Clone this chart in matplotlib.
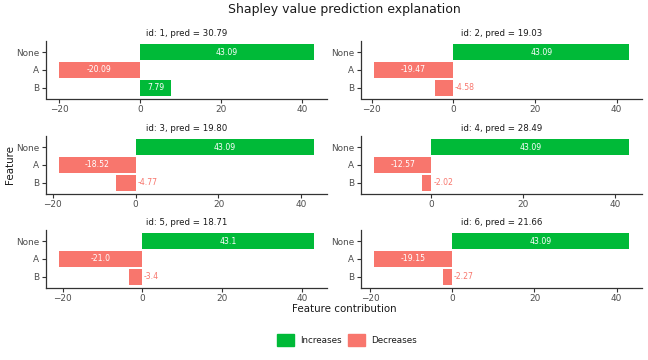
"""Shapley value prediction explanation, six small panels."""
import matplotlib
matplotlib.use("Agg")
import matplotlib.pyplot as plt
from matplotlib.patches import Patch
from matplotlib.ticker import MultipleLocator

features = ["None", "A", "B"]
ids = [1, 2, 3, 4, 5, 6]
preds = ["30.79", "19.03", "19.80", "28.49", "18.71", "21.66"]
# contribution labels per panel, in the order of features
contrib_labels = [
    ["43.09", "-20.09", "7.79"],
    ["43.09", "-19.47", "-4.58"],
    ["43.09", "-18.52", "-4.77"],
    ["43.09", "-12.57", "-2.02"],
    ["43.1", "-21.0", "-3.4"],
    ["43.09", "-19.15", "-2.27"],
]

GREEN = "#00BA38"
RED = "#F8766D"
DARK = "#333333"
GREY = "#4D4D4D"

W, H = 648, 360
fig = plt.figure(figsize=(W / 100, H / 100), dpi=100)

col_left = [46, 361]
panel_w = 281
row_top = [41.3, 136.3, 230.3]
panel_h = 57.2


def draw_panel(ax, idx):
    labels = contrib_labels[idx]
    vals = [float(s) for s in labels]
    ypos = list(range(len(features)))
    colors = [GREEN if v > 0 else RED for v in vals]
    ax.barh(ypos, vals, height=0.9, color=colors)

    lo = min(0, min(vals))
    hi = max(0, max(vals))
    span = hi - lo
    ax.set_xlim(lo - 0.05 * span, hi + 0.05 * span)
    ax.set_ylim(len(features) - 0.4, -0.6)

    for y, v, s in zip(ypos, vals, labels):
        if abs(v) > 0.1 * span:
            ax.text(v / 2, y, s, ha="center", va="center", color="white",
                    fontsize=5.6)
        else:
            ax.text(max(v, 0) + 0.4, y, s, ha="left", va="center",
                    color=RED, fontsize=5.6)

    ax.set_yticks(ypos)
    ax.set_yticklabels(features)
    ax.xaxis.set_major_locator(MultipleLocator(20))
    for side in ["top", "right"]:
        ax.spines[side].set_visible(False)
    for side in ["left", "bottom"]:
        ax.spines[side].set_color(DARK)
        ax.spines[side].set_linewidth(0.9)
    ax.tick_params(axis="both", colors=DARK, labelcolor=GREY, labelsize=6.4,
                   length=2.7, width=0.8, pad=2)
    ax.set_title("id: {}, pred = {}".format(ids[idx], preds[idx]),
                 fontsize=6.2, color="#1A1A1A", pad=3.5)


for i in range(6):
    r, c = divmod(i, 2)
    left = col_left[c] / W
    bottom = 1 - (row_top[r] + panel_h) / H
    ax = fig.add_axes([left, bottom, panel_w / W, panel_h / H])
    draw_panel(ax, i)

fig.text(344 / W, 1 - 10 / H, "Shapley value prediction explanation",
         ha="center", va="center", fontsize=9, color="#1A1A1A")
fig.text(344 / W, 1 - 309 / H, "Feature contribution",
         ha="center", va="center", fontsize=7.4, color="#1A1A1A")
fig.text(10 / W, 1 - 165 / H, "Feature", rotation=90,
         ha="center", va="center", fontsize=7.4, color="#1A1A1A")

handles = [Patch(color=GREEN, label="Increases"),
           Patch(color=RED, label="Decreases")]
fig.legend(handles=handles, loc="center", bbox_to_anchor=(347 / W, 1 - 340 / H),
           ncol=2, frameon=False, fontsize=6.3, handlelength=1.9,
           handleheight=1.9, handletextpad=0.7, columnspacing=0.8,
           labelcolor="#1A1A1A")

fig.savefig("out.png", dpi=100)
